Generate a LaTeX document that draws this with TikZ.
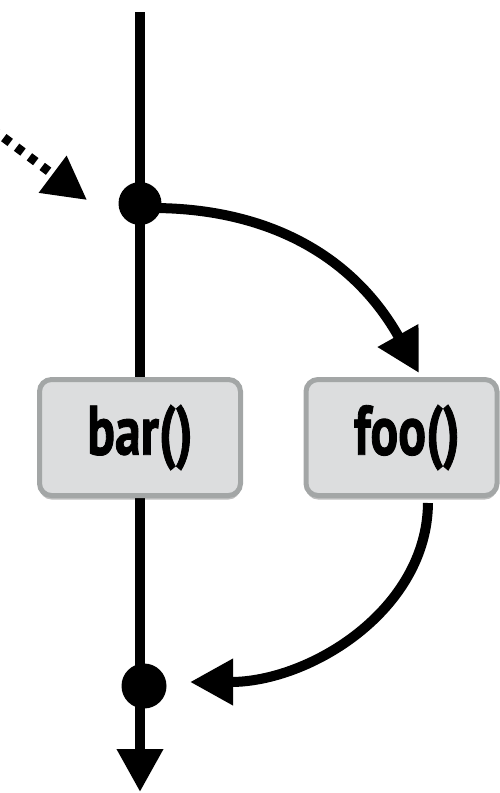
\documentclass[tikz,border=0pt]{standalone}
\usepackage{fontspec}
\newfontfamily\boxfont[FakeStretch=0.74,FakeBold=1.2]{PT Sans}
\usetikzlibrary{arrows.meta,shadows}
\definecolor{boxfill}{HTML}{DCDDDE}
\definecolor{boxline}{HTML}{A3A6A6}
\tikzset{
  flow/.style={line width=10pt},
  bigtip/.style={-{Triangle[length=43pt,width=44pt]}},
  joint/.style={circle,fill=black,inner sep=0pt,minimum size=44pt},
  funcbox/.style={draw=boxline,line width=5pt,fill=boxfill,rounded corners=12pt,
    minimum width=201pt,minimum height=116pt,inner sep=0pt,
    drop shadow={shadow xshift=0pt,shadow yshift=-4pt,opacity=0.25,fill=black},
    font=\boxfont\bfseries\fontsize{70}{70}\selectfont},
  dotline/.style={line width=9pt,dash pattern=on 8pt off 8pt}
}
\begin{document}
\begin{tikzpicture}[x=1pt,y=-1pt]
\useasboundingbox (0,0) rectangle (500,793);
% named points
\coordinate (top) at (140,12);
\coordinate (bot) at (140,792);
\coordinate (inA) at (-9,128);
\coordinate (inB) at (87,200);
\coordinate (c1s) at (152,208);
\coordinate (c1e) at (419,373);
\coordinate (c2s) at (428,503);
\coordinate (c2e) at (190,682);
% main vertical flow
\draw[flow,bigtip] (top) -- (bot);
\node[joint,minimum size=43pt] (d1) at (140,203.5) {};
\node[joint,minimum size=45pt] (d2) at (144,686) {};
% boxes
\node[funcbox] (bar) at (140,437.5) {bar()};
\node[funcbox,minimum width=191pt] (foo) at (401.5,437.5) {\hspace*{11pt}foo()};
% incoming dotted arrow
\draw[dotline,bigtip] (inA) -- (inB);
% curved arrows
\draw[flow,bigtip] (c1s) .. controls (260,208) and (350,250) .. (c1e);
\draw[flow,bigtip] (c2s) .. controls (427,610) and (310,682) .. (c2e);
\end{tikzpicture}
\end{document}
